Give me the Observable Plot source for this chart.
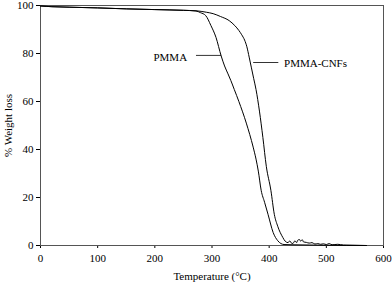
<!DOCTYPE html>
<html><head><meta charset="utf-8">
<script src="https://cdn.jsdelivr.net/npm/d3@7"></script>
<script src="https://cdn.jsdelivr.net/npm/@observablehq/plot@0.6"></script>
<style>body{margin:0;background:#fff}svg{display:block}svg text{font-family:"Liberation Serif",serif !important}</style>
</head><body><div id="chart"></div>
<script>
const pmmaT = [0,20,50,100,150,200,250,272,280,289,298,307,316,322,328,333,339,347,360,372,377,381,386,392,398,407,415,426,440,470,500,570];
const pmmaW = [99.8,99.5,99.3,99.0,98.6,98.3,98,97.7,97,95.8,91.7,86.7,79,74.8,71.5,68.7,65,60,51,41,36,31,23,18,13,5.4,2,0.4,0.3,0.2,0.1,0];
const cnfT = [0,20,50,100,150,200,250,272,290,302,315,330,340,347,352,357,361,365,369,373,377,383,389,395,403,409,415,424,428,433,436,440,443,445,448,450,453,455,458,460,465,470,475,480,485,490,495,500,505,510,520,530,550,570];
const cnfW = [99.8,99.5,99.3,99.0,98.6,98.3,98,97.8,97.2,96.6,95.4,93.7,91.6,89.6,87.8,85.6,82.8,78.5,74,69.5,65,56,45,33,23,13,8,3.3,1.8,1.2,1.9,0.8,1.2,2,1.2,2.2,2.5,1.8,2.4,1.5,1.3,1,1.2,0.6,0.8,0.5,0.7,0.4,0.8,0.3,0.5,0.2,0.1,0];
const xTicks = [0,100,200,300,400,500,600];
const yTicks = [0,20,40,60,80,100];
const labels = ["PMMA","PMMA-CNFs"];
const labelT = [227,426];
const labelW = [78.5,76];
const leaderT1 = [272,372];
const leaderT2 = [316,416];
const leaderW = [79.2,76.25];

const pmma = pmmaT.map((t,i)=>({t,w:pmmaW[i]}));
const cnf = cnfT.map((t,i)=>({t,w:cnfW[i]}));
const ann = labels.map((l,i)=>({l,t:labelT[i],w:labelW[i],t1:leaderT1[i],t2:leaderT2[i],lw:leaderW[i]}));
const FONT = "Liberation Serif";

const chart = Plot.plot({
  width: 392, height: 282,
  marginLeft: 40, marginRight: 9, marginTop: 5, marginBottom: 37,
  style: {fontFamily: FONT, fontSize: "11px", color: "#000", background: "#fff"},
  x: {domain: [0,600], ticks: xTicks, tickSize: 3, tickPadding: 6, label: "Temperature (°C)", labelAnchor: "center", labelOffset: 34, labelArrow: "none"},
  y: {domain: [0,100], ticks: yTicks, tickSize: 4, tickPadding: 3, label: "% Weight loss", labelAnchor: "center", labelOffset: 36, labelArrow: "none"},
  marks: [
    Plot.frame({stroke: "#555", strokeWidth: 1}),
    Plot.line(pmma, {x: "t", y: "w", stroke: "#000", strokeWidth: 1, curve: "monotone-x"}),
    Plot.line(cnf, {x: "t", y: "w", stroke: "#000", strokeWidth: 1, curve: "monotone-x"}),
    Plot.link(ann, {x1: "t1", x2: "t2", y1: "lw", y2: "lw", stroke: "#000", strokeWidth: 0.8}),
    Plot.text(ann.slice(0,1), {x: "t", y: "w", text: "l", textAnchor: "middle", fontSize: 11, fontFamily: FONT}),
    Plot.text(ann.slice(1), {x: "t", y: "w", text: "l", textAnchor: "start", fontSize: 11, fontFamily: FONT})
  ]
});
document.getElementById("chart").appendChild(chart);
</script></body></html>
